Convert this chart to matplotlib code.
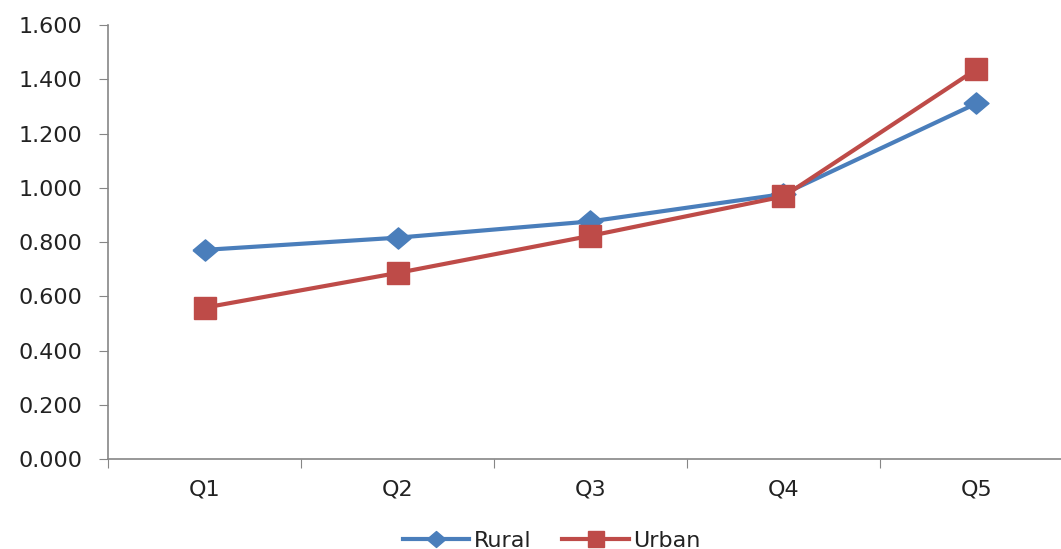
import matplotlib.pyplot as plt
import matplotlib.ticker as mticker
import numpy as np

# quintile ratios, rural vs urban
quintiles = ["Q1", "Q2", "Q3", "Q4", "Q5"]
rural = [0.771, 0.816, 0.876, 0.977, 1.311]
urban = [0.558, 0.686, 0.823, 0.968, 1.437]

blue = "#4A7EBB"
red = "#BE4B48"
grey = "#868686"

diamond = [(-1, 0), (0, 0.85), (1, 0), (0, -0.85), (-1, 0)]

fig = plt.figure(figsize=(10.61, 5.49), dpi=100)
ax = fig.add_axes([0.1018, 0.1639, 0.9095, 0.7905])

x = np.arange(1, len(quintiles) + 1)
ax.plot(x, rural, color=blue, lw=3, marker=diamond, ms=18, label="Rural", zorder=3)
ax.plot(x, urban, color=red, lw=3, marker="s", ms=16, label="Urban", zorder=4)

ax.set_ylim(0, 1.6)
ax.set_xlim(0.5, len(quintiles) + 0.5)
ax.yaxis.set_major_locator(mticker.MultipleLocator(0.2))
ax.yaxis.set_major_formatter(mticker.FormatStrFormatter("%.3f"))

# tick marks between categories, labels centred on them
ax.set_xticks(np.arange(0.5, len(quintiles) + 1, 1.0))
ax.set_xticklabels([])
ax.set_xticks(x, minor=True)
ax.set_xticklabels(quintiles, minor=True)
ax.tick_params(axis="x", which="minor", length=0, pad=15, labelsize=16, labelcolor="#222222")
ax.tick_params(axis="x", which="major", length=6.5, color=grey)
ax.tick_params(axis="y", length=6.5, color=grey, pad=12, labelsize=16, labelcolor="#222222")

for s in ["top", "right"]:
    ax.spines[s].set_visible(False)
for s in ["left", "bottom"]:
    ax.spines[s].set_color(grey)
    ax.spines[s].set_linewidth(1.2)

leg = fig.legend(loc="lower center", bbox_to_anchor=(0.52, -0.04), ncol=2, frameon=False,
                 fontsize=16, handlelength=3, handletextpad=0.2, columnspacing=1.4,
                 markerscale=0.75)
for t in leg.get_texts():
    t.set_color("#222222")

fig.savefig("out.png", dpi=100)
